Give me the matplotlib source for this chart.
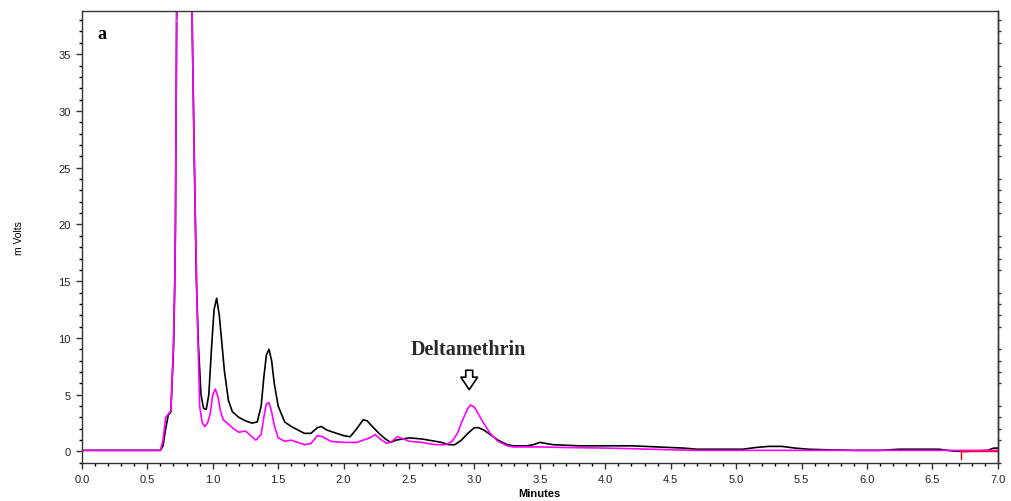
import matplotlib.pyplot as plt
from matplotlib.ticker import MultipleLocator

# retention time (min) and detector signal (mV) for the two runs
t_black = [0.00, 0.10, 0.30, 0.50, 0.60, 0.62, 0.64, 0.66, 0.68, 0.70, 0.71, 0.715,
           0.725, 0.75, 0.80, 0.83, 0.845, 0.86, 0.875, 0.89, 0.91, 0.93, 0.95,
           0.97, 0.99, 1.01, 1.03, 1.05, 1.07, 1.09, 1.12, 1.15, 1.20, 1.25, 1.30,
           1.34, 1.37, 1.39, 1.41, 1.43, 1.45, 1.47, 1.50, 1.55, 1.60, 1.65, 1.70,
           1.75, 1.80, 1.83, 1.87, 1.92, 2.00, 2.05, 2.10, 2.15, 2.18, 2.22, 2.27,
           2.32, 2.36, 2.40, 2.45, 2.50, 2.60, 2.70, 2.75, 2.80, 2.85, 2.90, 2.95,
           3.00, 3.03, 3.07, 3.12, 3.18, 3.25, 3.30, 3.40, 3.45, 3.50, 3.60, 3.80,
           4.00, 4.20, 4.40, 4.50, 4.60, 4.70, 4.90, 5.05, 5.15, 5.25, 5.35, 5.45,
           5.55, 5.70, 5.90, 6.10, 6.25, 6.40, 6.55, 6.65, 6.75, 6.85, 6.92, 6.97, 7.00]
v_black = [0.1, 0.1, 0.1, 0.1, 0.1, 0.5, 2.0, 3.2, 3.5, 9.0, 15.0, 20.0,
           40.0, 70.0, 75.0, 50.0, 36.0, 25.0, 15.0, 9.5, 5.0, 3.8, 3.7,
           5.0, 9.0, 12.5, 13.5, 12.0, 9.5, 7.0, 4.5, 3.5, 3.0, 2.7, 2.5,
           2.6, 4.0, 6.5, 8.5, 9.0, 8.0, 6.0, 4.0, 2.6, 2.2, 1.9, 1.6,
           1.6, 2.1, 2.2, 1.9, 1.7, 1.4, 1.3, 2.0, 2.8, 2.7, 2.2, 1.6,
           1.1, 0.8, 1.0, 1.1, 1.2, 1.1, 0.9, 0.8, 0.6, 0.6, 1.0, 1.6,
           2.1, 2.1, 1.9, 1.5, 1.0, 0.6, 0.5, 0.5, 0.6, 0.8, 0.6, 0.5,
           0.5, 0.5, 0.4, 0.35, 0.3, 0.2, 0.2, 0.2, 0.35, 0.45, 0.45, 0.3,
           0.2, 0.15, 0.1, 0.1, 0.2, 0.2, 0.2, 0.05, 0.0, 0.05, 0.1, 0.3, 0.3]

t_pink = [0.00, 0.10, 0.30, 0.50, 0.60, 0.62, 0.64, 0.66, 0.68, 0.70, 0.71, 0.715,
          0.725, 0.75, 0.80, 0.83, 0.845, 0.86, 0.87, 0.88, 0.89, 0.90, 0.92,
          0.94, 0.96, 0.98, 1.00, 1.02, 1.04, 1.06, 1.08, 1.12, 1.16, 1.20, 1.25,
          1.28, 1.33, 1.37, 1.39, 1.41, 1.43, 1.45, 1.47, 1.50, 1.55, 1.60, 1.65,
          1.70, 1.75, 1.80, 1.84, 1.90, 2.00, 2.10, 2.15, 2.20, 2.24, 2.28, 2.33,
          2.37, 2.41, 2.46, 2.50, 2.60, 2.70, 2.78, 2.83, 2.87, 2.91, 2.95, 2.97,
          3.00, 3.03, 3.07, 3.12, 3.18, 3.25, 3.30, 3.50, 3.70, 4.00, 4.20, 4.50,
          4.70, 5.00, 5.50, 6.00, 6.50, 7.00]
v_pink = [0.1, 0.1, 0.1, 0.1, 0.1, 1.0, 3.0, 3.3, 3.6, 9.5, 15.0, 20.0,
          40.0, 70.0, 75.0, 50.0, 36.0, 25.0, 19.0, 13.0, 8.5, 4.0, 2.5,
          2.2, 2.5, 3.3, 5.0, 5.5, 4.8, 3.5, 2.8, 2.4, 2.0, 1.7, 1.8,
          1.5, 1.0, 1.5, 3.0, 4.2, 4.3, 3.5, 2.3, 1.2, 0.9, 1.0, 0.8,
          0.6, 0.7, 1.4, 1.3, 0.9, 0.8, 0.8, 1.0, 1.2, 1.5, 1.1, 0.7,
          0.9, 1.3, 1.1, 0.9, 0.8, 0.6, 0.6, 0.9, 1.6, 2.8, 3.8, 4.1,
          3.9, 3.3, 2.5, 1.6, 0.9, 0.5, 0.4, 0.4, 0.35, 0.3, 0.25, 0.15,
          0.1, 0.1, 0.1, 0.1, 0.1, 0.1]

# integration baseline marker near the end of the run
t_base = [6.72, 7.00]
v_base = [0.05, 0.05]

plt.rcParams['font.family'] = ['Liberation Sans', 'DejaVu Sans']

fig = plt.figure(figsize=(10.11, 5.02), dpi=100)
ax = fig.add_axes([0.081, 0.076, 0.906, 0.900])

ax.plot(t_black, v_black, color='black', lw=1.2)
ax.plot(t_pink, v_pink, color='#ff00ff', lw=1.2)
ax.plot(t_base, v_base, color='red', lw=1.0)
ax.plot([t_base[0], t_base[0]], [0.05, -0.7], color='red', lw=1.0)

ax.set_xlim(0, 7.0)
ax.set_ylim(-1.0, 38.8)
ax.xaxis.set_major_locator(MultipleLocator(0.5))
ax.xaxis.set_minor_locator(MultipleLocator(0.1))
ax.yaxis.set_major_locator(MultipleLocator(5))
ax.yaxis.set_minor_locator(MultipleLocator(1))
ax.xaxis.set_major_formatter(plt.FormatStrFormatter('%.1f'))
ax.tick_params(which='major', length=4.5, width=1, labelsize=8, colors='#333333',
               labelcolor='#222222')
ax.tick_params(which='minor', length=2, width=1)
for s in ax.spines.values():
    s.set_linewidth(1.0)
    s.set_color('#333333')

# short minor ticks on the outside of the right frame
rax = ax.secondary_yaxis('right')
rax.yaxis.set_major_locator(MultipleLocator(5))
rax.yaxis.set_minor_locator(MultipleLocator(1))
rax.tick_params(which='major', length=0, labelright=False)
rax.tick_params(which='minor', length=2, width=1, colors='#333333')
rax.spines['right'].set_linewidth(1.0)
rax.spines['right'].set_color('#333333')

ax.set_xlabel('Minutes', fontsize=8, fontweight='bold', labelpad=3)
ax.set_ylabel('m Volts', fontsize=7.5, labelpad=25)

ax.text(0.017, 0.95, 'a', transform=ax.transAxes, fontsize=13, fontweight='bold',
        family='Liberation Serif', va='center')
ax.text(0.72, 38.0, 'A', color='#bbbbbb', fontsize=4, ha='center', va='center')

ax.text(2.95, 9.0, 'Deltamethrin', family='Liberation Serif', fontsize=14.5,
        fontweight='semibold', color='#2a2a2a', ha='center', va='center')
ax.annotate('', xy=(2.96, 5.2), xytext=(2.96, 7.4),
            arrowprops=dict(arrowstyle='simple,head_width=1.2,head_length=0.9,tail_width=0.5',
                            facecolor='white', edgecolor='black', lw=1.2))

fig.savefig('out.png', dpi=100)
